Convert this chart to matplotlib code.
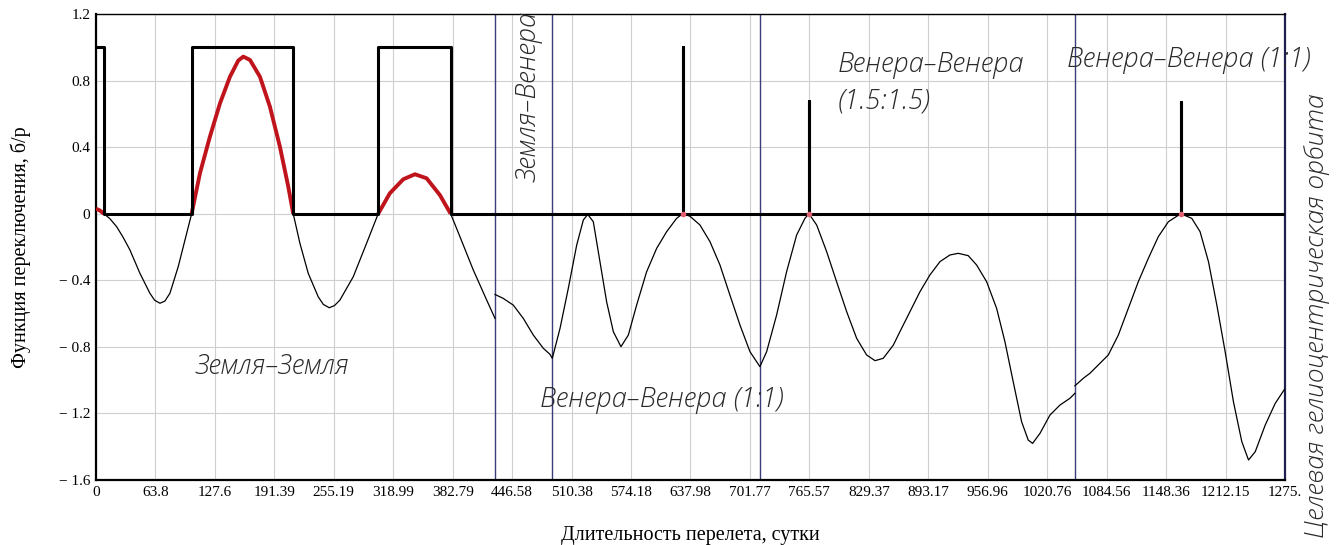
import numpy as np
import matplotlib
matplotlib.use("Agg")
import matplotlib.pyplot as plt

# switching function; NaN marks the jumps at 428 and 1050 days
sw_days = [
    0, 4, 8.6, 15, 22.2, 29, 36.5, 47.2, 57.9, 63, 68.7, 74, 79.4, 88.3, 97.3,
    102.7, 111.6, 122.3, 133.1, 143.8, 152.7, 158.1, 165.3, 176.0, 186.7, 197.4, 206.4,
    211.7, 218.9, 227.8, 238.5, 244, 250.4, 256, 261.8, 276.1, 290.4,
    302.9, 315.4, 329.8, 342.3, 354.8, 369.1, 380.6, 390.6, 404.9, 419.3, 428.2,
    np.nan,
    428.2, 437.1, 447.8, 458.6, 469.3, 480.1, 487.2, 489.7, 498.0, 506.9, 515.9,
    523.0, 527.7, 533.7, 540.8, 548.0, 555.2, 563.4, 571.3, 580.2, 590.9, 601.7,
    612.4, 623.1, 629.5, 637.4, 648.2, 658.9, 669.6, 680.3, 691.1, 701.8, 709.0,
    712.5, 719.7, 730.4, 741.1, 751.9, 760.8, 765.1, 773.4, 784.1, 794.8, 805.6,
    816.3, 827.0, 836.0, 844.8, 855.6, 862.7, 873.5, 884.2, 894.9, 905.7, 916.4,
    925.3, 936.0, 945.0, 955.8, 966.5, 975.4, 984.3, 993.3, 1000.4, 1005.1, 1013.0,
    1023.7, 1034.4, 1045.2, 1050.5,
    np.nan,
    1050.5, 1059.5, 1066.6, 1075.6, 1086.3, 1097.1, 1107.8, 1118.5, 1129.3, 1140.0,
    1150.8, 1164.1, 1175.9, 1184.8, 1193.8, 1202.8, 1211.7, 1220.6, 1229.6, 1236.8,
    1244.0, 1254.7, 1265.4, 1276.0,
]
sw_values = [
    0.03, 0.02, 0.0, -0.03, -0.078, -0.14, -0.218, -0.358, -0.478, -0.52, -0.538, -0.525, -0.478, -0.318, -0.118,
    0.0, 0.243, 0.463, 0.663, 0.823, 0.92, 0.944, 0.924, 0.823, 0.643, 0.403, 0.162,
    0.0, -0.178, -0.358, -0.499, -0.545, -0.565, -0.552, -0.519, -0.379, -0.178,
    0.0, 0.123, 0.207, 0.237, 0.213, 0.112, 0.0, -0.138, -0.338, -0.519, -0.629,
    np.nan,
    -0.485, -0.509, -0.549, -0.629, -0.729, -0.809, -0.845, -0.869, -0.689, -0.448, -0.188,
    -0.038, -0.004, -0.048, -0.288, -0.529, -0.709, -0.799, -0.729, -0.549, -0.349, -0.208,
    -0.108, -0.028, 0.0, -0.015, -0.068, -0.168, -0.308, -0.489, -0.669, -0.829, -0.889,
    -0.919, -0.829, -0.609, -0.349, -0.128, -0.028, 0.0, -0.068, -0.228, -0.409, -0.589,
    -0.749, -0.849, -0.883, -0.869, -0.79, -0.709, -0.589, -0.469, -0.368, -0.288, -0.248,
    -0.238, -0.252, -0.308, -0.409, -0.569, -0.769, -1.01, -1.25, -1.36, -1.38, -1.32,
    -1.21, -1.15, -1.109, -1.079,
    np.nan,
    -1.034, -0.989, -0.959, -0.909, -0.849, -0.729, -0.569, -0.409, -0.268, -0.138,
    -0.048, 0.0, -0.028, -0.108, -0.288, -0.549, -0.829, -1.13, -1.37, -1.48,
    -1.43, -1.27, -1.14, -1.05,
]

# thrust on/off function with impulse spikes
step_days = [0, 8.6, 8.6, 102.7, 102.7, 211.7, 211.7, 302.9, 302.9, 380.6, 380.6,
             629.5, 629.5, 629.5, 765.1, 765.1, 765.1, 1164.1, 1164.1, 1164.1, 1276.0]
step_values = [1, 1, 0, 0, 1, 1, 0, 0, 1, 1, 0,
               0, 1.0, 0, 0, 0.68, 0, 0, 0.67, 0, 0]

impulse_days = [629.5, 765.1, 1164.1]
phase_bounds = [428.2, 489.7, 712.5, 1050.5]

x_max = 1275.95
x_tick_step = 63.7975
x_tick_labels = ["0", "63.8", "127.6", "191.39", "255.19", "318.99", "382.79",
                 "446.58", "510.38", "574.18", "637.98", "701.77", "765.57",
                 "829.37", "893.17", "956.96", "1020.76", "1084.56", "1148.36",
                 "1212.15", "1275."]
y_ticks = [1.2, 0.8, 0.4, 0, -0.4, -0.8, -1.2, -1.6]
y_tick_labels = ["1.2", "0.8", "0.4", "0", "\u2212 0.4", "\u2212 0.8", "\u2212 1.2", "\u2212 1.6"]

serif = ["Liberation Serif", "DejaVu Serif"]
label_font = dict(family=["Open Sans", "DejaVu Sans"], style="italic",
                  weight="light", color="#2a2a2a", fontsize=19.5)

fig = plt.figure(figsize=(13.38, 5.45), dpi=100)
ax = fig.add_axes([0.0717, 0.1193, 0.8887, 0.855])

sw_d = np.array(sw_days, dtype=float)
sw_v = np.array(sw_values, dtype=float)

# thin black switching function
ax.plot(sw_d, sw_v, color="black", lw=0.9, zorder=3)
# red positive part
red_v = np.where(sw_v >= 0, sw_v, np.nan)
ax.plot(sw_d, red_v, color="#c0141c", lw=2.8, zorder=4, solid_capstyle="butt")
ax.plot(impulse_days, [0] * len(impulse_days), "o", color="#e06070", ms=3, zorder=5)
# step function
ax.plot(step_days, step_values, color="black", lw=2.2, zorder=4)

for xb in phase_bounds:
    ax.axvline(xb, color="#3d3d7a", lw=1.0, zorder=2)

ax.set_xlim(0, x_max)
ax.set_ylim(-1.6, 1.2)
ax.set_xticks([i * x_tick_step for i in range(len(x_tick_labels))])
ax.set_xticklabels(x_tick_labels, family=serif, fontsize=11)
ax.set_yticks(y_ticks)
ax.set_yticklabels(y_tick_labels, family=serif, fontsize=11)
ax.tick_params(length=0, pad=4)
ax.grid(True, color="#cfcfcf", lw=0.8)
ax.set_axisbelow(True)

for side in ["left", "bottom"]:
    ax.spines[side].set_linewidth(1.6)
    ax.spines[side].set_color("black")
ax.spines["top"].set_linewidth(1.0)
ax.spines["right"].set_linewidth(1.6)
ax.spines["right"].set_color("#1e1e50")

ax.set_xlabel("Длительность перелета, сутки", family=serif, fontsize=14.5, labelpad=20)
ax.set_ylabel("Функция переключения, б/р", family=serif, fontsize=14.5, labelpad=20)

ax.text(107, -0.92, "Земля–Земля", ha="left", va="center", **label_font)
ax.text(465.7, 0.70, "Земля–Венера", ha="center", va="center", rotation=90, **label_font)
ax.text(476.5, -1.12, "Венера–Венера (1:1)", ha="left", va="center", **label_font)
ax.text(796, 0.89, "Венера–Венера", ha="left", va="center", **label_font)
ax.text(796, 0.68, "(1.5:1.5)", ha="left", va="center", **label_font)
ax.text(1042, 0.92, "Венера–Венера (1:1)", ha="left", va="center", **label_font)
fig.text(0.9845, 0.42, "Целевая гелиоцентрическая орбита", ha="center", va="center",
         rotation=90, family=label_font["family"], style="italic", weight="light",
         color=label_font["color"], fontsize=19)

fig.savefig("out.png", dpi=100)
